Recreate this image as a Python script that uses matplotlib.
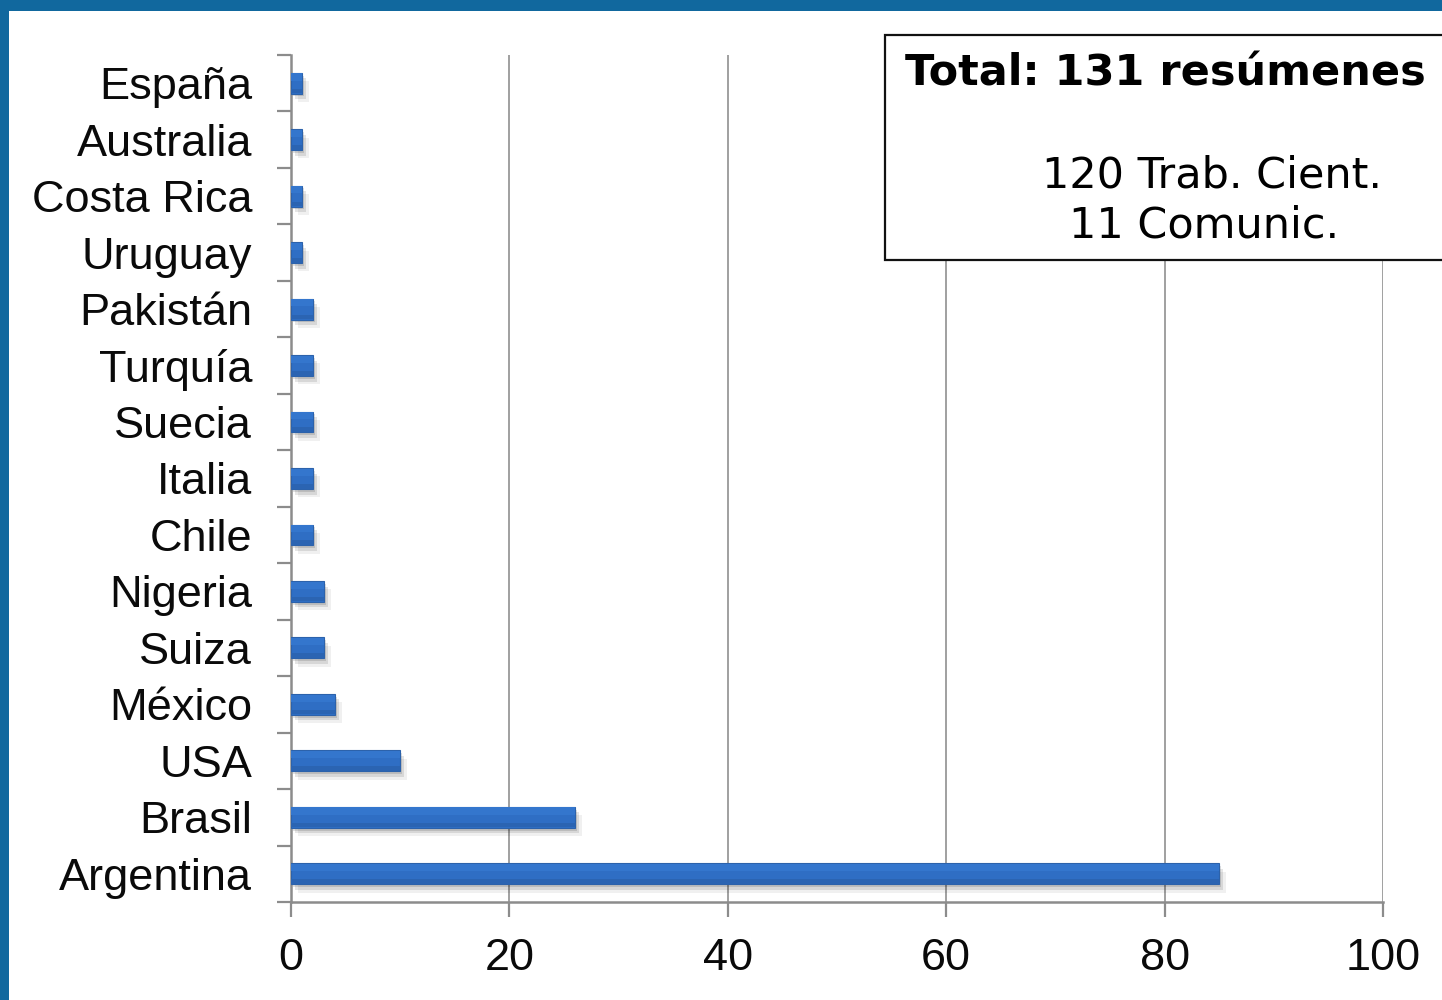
import matplotlib
matplotlib.use("Agg")
import matplotlib.pyplot as plt
import matplotlib.patheffects as pe
from matplotlib.patches import Rectangle
import numpy as np

# Abstracts per country (bottom to top)
countries = ["Argentina", "Brasil", "USA", "México", "Suiza", "Nigeria", "Chile",
             "Italia", "Suecia", "Turquía", "Pakistán", "Uruguay", "Costa Rica",
             "Australia", "España"]
counts = [85, 26, 10, 4, 3, 3, 2, 2, 2, 2, 2, 1, 1, 1, 1]
x_ticks = [0, 20, 40, 60, 80, 100]

summary_title = "Total: 131 resúmenes"
summary_line1 = "120 Trab. Cient."
summary_line2 = "11 Comunic."

W, H = 1442, 1000
fig = plt.figure(figsize=(W / 100, H / 100), dpi=100)
fig.patch.set_facecolor("white")

# Blue frame along the top and left edges
frame = "#11689e"
fig.patches.append(Rectangle((0, 1 - 11 / H), 1, 11 / H, transform=fig.transFigure,
                             facecolor=frame, edgecolor="none", zorder=0))
fig.patches.append(Rectangle((0, 0), 9 / W, 1, transform=fig.transFigure,
                             facecolor=frame, edgecolor="none", zorder=0))

ax = fig.add_axes([291 / W, 98 / H, 1092 / W, 847 / H])
ax.set_facecolor("none")

y = np.arange(len(countries))
bar_h = 0.37
bars = ax.barh(y, counts, height=bar_h, color="#2f6ec4", edgecolor="#2c62ab",
               linewidth=0.8, zorder=3)
for b in bars:
    b.set_path_effects([
        pe.SimplePatchShadow(offset=(5, -6), shadow_rgbFace="black", alpha=0.06),
        pe.SimplePatchShadow(offset=(3, -4), shadow_rgbFace="black", alpha=0.10),
        pe.SimplePatchShadow(offset=(1.5, -2), shadow_rgbFace="black", alpha=0.12),
        pe.Normal(),
    ])
# soft sheen along the upper edge and shade along the lower edge of each bar
ax.barh(y + bar_h * 0.30, counts, height=bar_h * 0.34, color="#3476cd",
        edgecolor="none", zorder=4)
ax.barh(y - bar_h * 0.37, counts, height=bar_h * 0.22, color="#2b64b2",
        edgecolor="none", zorder=4)

ax.set_xlim(0, 100)
ax.set_ylim(-0.5, len(countries) - 0.5)
ax.set_xticks(x_ticks)
ax.set_yticks(y)
ax.set_yticklabels(countries)
ax.set_yticks(np.arange(-0.5, len(countries)), minor=True)

axis_gray = "#8c8c8c"
ax.xaxis.grid(True, color="#a0a0a0", linewidth=1.4, zorder=0)
ax.set_axisbelow(True)
for s in ["top", "right"]:
    ax.spines[s].set_visible(False)
for s in ["left", "bottom"]:
    ax.spines[s].set_color(axis_gray)
    ax.spines[s].set_linewidth(1.8)

label_font = "Liberation Sans"
ax.tick_params(axis="y", which="major", length=0, pad=28)
ax.tick_params(axis="y", which="minor", length=10, width=1.6, color=axis_gray)
ax.tick_params(axis="x", which="major", length=11, width=1.6, color=axis_gray, pad=15)
for lab in ax.get_yticklabels() + ax.get_xticklabels():
    lab.set_fontfamily(label_font)
    lab.set_fontsize(32.5)
    lab.set_color("#0a0a0a")

# Summary box in the upper right
box = Rectangle((885 / W, 1 - 260 / H), 600 / W, 225 / H, transform=fig.transFigure,
                facecolor="white", edgecolor="#111111", linewidth=1.6, zorder=5)
fig.patches.append(box)
fig.text(905 / W, 1 - 73 / H, summary_title, fontfamily="DejaVu Sans",
         fontweight="bold", fontsize=31, ha="left", va="center", zorder=6)
fig.text(1212 / W, 1 - 176 / H, summary_line1, fontfamily="DejaVu Sans",
         fontsize=31, ha="center", va="center", zorder=6)
fig.text(1204 / W, 1 - 226 / H, summary_line2, fontfamily="DejaVu Sans",
         fontsize=31, ha="center", va="center", zorder=6)

fig.savefig("out.png", dpi=100)
